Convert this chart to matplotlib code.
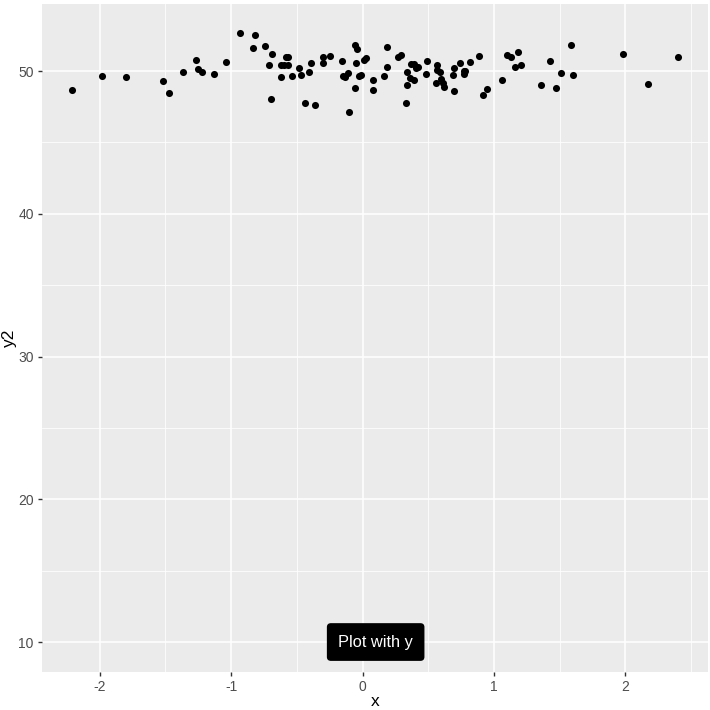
import matplotlib.pyplot as plt
import numpy as np

x = [-2.21, -1.98, -1.80, -1.52, -1.47, -1.37, -1.27, -1.25, -1.22, -1.13,
     -1.04, -0.93, -0.83, -0.82, -0.74, -0.71, -0.70, -0.69, -0.62, -0.60,
     -0.62, -0.58, -0.57, -0.57, -0.54, -0.48, -0.47, -0.44, -0.41, -0.39,
     -0.36, -0.30, -0.30, -0.25, -0.16, -0.15, -0.13, -0.11, -0.10, -0.06,
     -0.04, -0.05, -0.06, -0.03, -0.01, 0.01, 0.03, 0.08, 0.08, 0.16,
     0.19, 0.19, 0.27, 0.29, 0.33, 0.34, 0.34, 0.36, 0.37, 0.39,
     0.39, 0.41, 0.42, 0.48, 0.49, 0.56, 0.57, 0.57, 0.59, 0.60,
     0.61, 0.62, 0.69, 0.70, 0.70, 0.74, 0.77, 0.78, 0.77, 0.82,
     0.89, 0.92, 0.95, 1.06, 1.10, 1.13, 1.18, 1.16, 1.21, 1.36,
     1.43, 1.47, 1.51, 1.59, 1.60, 1.98, 2.17, 2.40]
y2 = [48.67, 49.67, 49.58, 49.32, 48.44, 49.95, 50.79, 50.16, 49.95, 49.79,
      50.61, 52.67, 51.59, 52.53, 51.75, 50.42, 48.04, 51.19, 50.42, 50.42,
      49.60, 50.96, 50.96, 50.42, 49.63, 50.21, 49.72, 47.73, 49.93, 50.58,
      47.61, 51.00, 50.54, 51.05, 50.72, 49.67, 49.58, 49.86, 47.12, 51.85,
      51.54, 50.58, 48.83, 49.63, 49.70, 50.77, 50.89, 49.39, 48.69, 49.67,
      51.71, 50.28, 51.00, 51.14, 47.73, 49.02, 49.93, 49.49, 50.47, 49.37,
      50.47, 50.19, 50.28, 49.77, 50.70, 49.16, 50.09, 50.42, 49.95, 49.44,
      49.16, 48.86, 49.74, 50.23, 48.60, 50.58, 49.98, 50.02, 49.79, 50.65,
      51.05, 48.29, 48.76, 49.37, 51.14, 50.98, 51.35, 50.26, 50.40, 49.04,
      50.72, 48.83, 49.86, 51.80, 49.70, 51.17, 49.09, 50.96]

label_x = 0.1
label_y = 10
label_text = "Plot with y"

plt.rcParams['font.family'] = ['Liberation Sans', 'DejaVu Sans']
plt.rcParams['axes.unicode_minus'] = False

fig = plt.figure(figsize=(7.1, 7.1), dpi=100)
ax = fig.add_axes([42 / 710, 1 - 672 / 710, 666 / 710, 668 / 710])
ax.set_facecolor('#EBEBEB')

ax.scatter(x, y2, s=26, color='black', zorder=3, linewidths=0)

ax.set_xticks([-2, -1, 0, 1, 2])
ax.set_yticks([10, 20, 30, 40, 50])
ax.set_xticks([-1.5, -0.5, 0.5, 1.5, 2.5], minor=True)
ax.set_yticks([15, 25, 35, 45], minor=True)
ax.set_xlim(-2.44, 2.63)
ax.set_ylim(7.9, 54.7)
ax.grid(which='major', color='white', linewidth=1.1, zorder=0)
ax.grid(which='minor', color='white', linewidth=0.55, zorder=0)
ax.set_axisbelow(True)

for s in ax.spines.values():
    s.set_visible(False)
ax.tick_params(which='major', length=3, width=1, color='#333333',
               labelcolor='#4D4D4D', labelsize=10, pad=3)
ax.tick_params(which='minor', length=0)

ax.set_xlabel('x', fontsize=12.5, color='black', labelpad=0)
ax.set_ylabel('y2', fontsize=12.5, color='black', labelpad=1)

ax.text(label_x, label_y, label_text, ha='center', va='center', fontsize=11.8,
        color='white', zorder=4,
        bbox=dict(boxstyle='round,pad=0.65,rounding_size=0.2', fc='black', ec='black'))

fig.savefig('out.png', dpi=100)
